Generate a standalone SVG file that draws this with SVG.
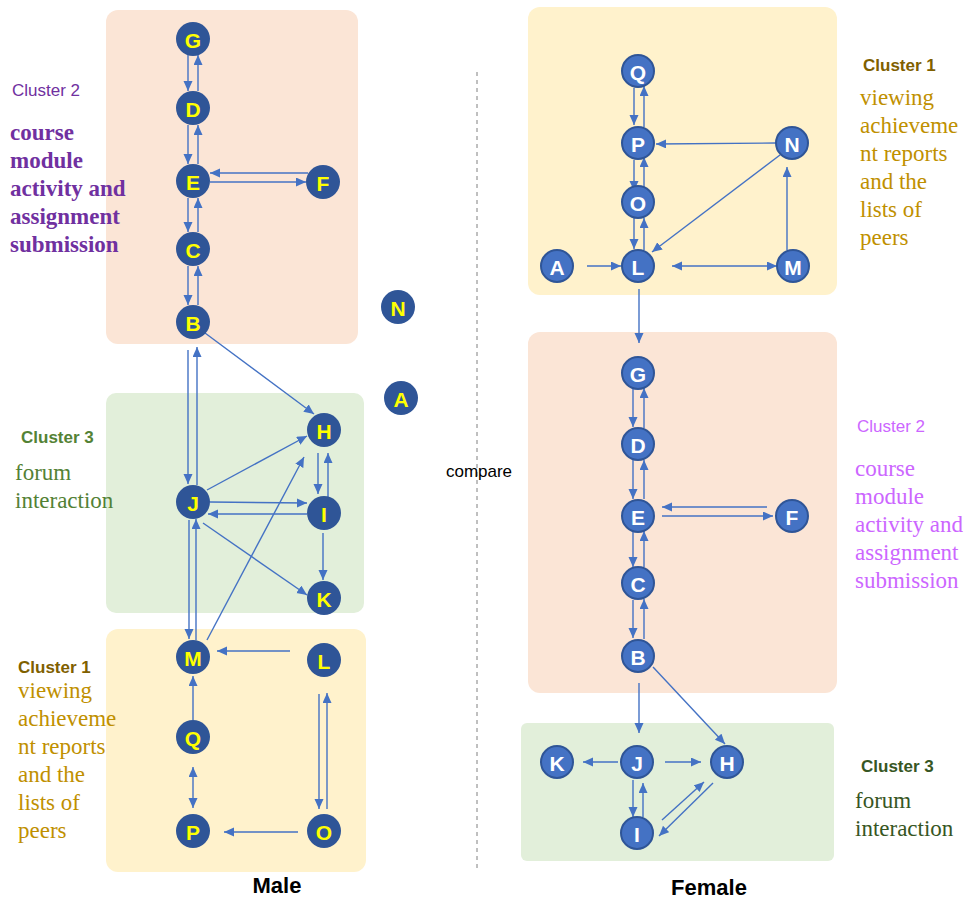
<svg xmlns="http://www.w3.org/2000/svg" width="967" height="900" viewBox="0 0 967 900">
  <style>
    .bg { fill: #ffffff; }
    .c1 { fill: #FFF2CC; }
    .c2 { fill: #FBE5D6; }
    .c3 { fill: #E2EFDA; }
    .nm circle { fill: #2F5597; }
    .nm text { fill: #FFFF00; }
    .nf circle { fill: #4472C4; stroke: #2F5597; stroke-width: 2; }
    .nf text { fill: #FFFFFF; }
    .node text { font-family: "Liberation Sans", Arial, sans-serif; font-weight: bold; font-size: 21px; text-anchor: middle; dominant-baseline: central; }
    .edges line { stroke: #4472C4; stroke-width: 1.4; fill: none; marker-end: url(#ah); }
    .edges line.both { marker-start: url(#ah); }
    .lbl { font-family: "Liberation Sans", Arial, sans-serif; font-size: 17px; }
    .desc { font-family: "Liberation Serif", "Times New Roman", serif; font-size: 23px; }
    .title { font-family: "Liberation Sans", Arial, sans-serif; font-size: 22px; font-weight: bold; fill: #000000; text-anchor: middle; }
  </style>
  <defs>
    <marker id="ah" markerUnits="userSpaceOnUse" markerWidth="11" markerHeight="10" refX="10" refY="4.5" orient="auto-start-reverse">
      <path d="M0,0 L10,4.5 L0,9 z" fill="#4472C4"/>
    </marker>
  </defs>

  <rect class="bg" x="0" y="0" width="967" height="900"/>

  <!-- cluster backgrounds -->
  <g id="clusters">
    <rect class="c2" x="106" y="10" width="252" height="334" rx="12"/>
    <rect class="c3" x="106" y="393" width="258" height="220" rx="10"/>
    <rect class="c1" x="106" y="629" width="260" height="243" rx="12"/>
    <rect class="c1" x="528" y="7" width="309" height="288" rx="12"/>
    <rect class="c2" x="528" y="332" width="309" height="361" rx="12"/>
    <rect class="c3" x="521" y="723" width="313" height="138" rx="6"/>
  </g>

  <!-- divider -->
  <line x1="477" y1="72" x2="477" y2="870" stroke="#808080" stroke-width="1" stroke-dasharray="4,4"/>
  <text x="479" y="477" class="lbl" font-size="18" text-anchor="middle" fill="#000000">compare</text>

  <!-- cluster labels -->
  <g id="labels">
    <text x="12" y="96" class="lbl" fill="#7030A0">Cluster 2</text>
    <text class="desc" fill="#7030A0" font-weight="bold">
      <tspan x="10" y="140">course</tspan>
      <tspan x="10" y="168">module</tspan>
      <tspan x="10" y="196">activity and</tspan>
      <tspan x="10" y="224">assignment</tspan>
      <tspan x="10" y="252">submission</tspan>
    </text>
    <text x="21" y="443" class="lbl" font-weight="bold" fill="#548235">Cluster 3</text>
    <text class="desc" fill="#538135">
      <tspan x="15" y="480">forum</tspan>
      <tspan x="15" y="508">interaction</tspan>
    </text>
    <text x="18" y="673" class="lbl" font-weight="bold" fill="#7F6000">Cluster 1</text>
    <text class="desc" fill="#BF9000">
      <tspan x="18" y="698">viewing</tspan>
      <tspan x="18" y="726">achieveme</tspan>
      <tspan x="18" y="754">nt reports</tspan>
      <tspan x="18" y="782">and the</tspan>
      <tspan x="18" y="810">lists of</tspan>
      <tspan x="18" y="838">peers</tspan>
    </text>

    <text x="863" y="71" class="lbl" font-weight="bold" fill="#7F6000">Cluster 1</text>
    <text class="desc" fill="#BF9000">
      <tspan x="860" y="105">viewing</tspan>
      <tspan x="860" y="133">achieveme</tspan>
      <tspan x="860" y="161">nt reports</tspan>
      <tspan x="860" y="189">and the</tspan>
      <tspan x="860" y="217">lists of</tspan>
      <tspan x="860" y="245">peers</tspan>
    </text>
    <text x="857" y="432" class="lbl" fill="#CC66FF">Cluster 2</text>
    <text class="desc" fill="#CC66FF">
      <tspan x="855" y="476">course</tspan>
      <tspan x="855" y="504">module</tspan>
      <tspan x="855" y="532">activity and</tspan>
      <tspan x="855" y="560">assignment</tspan>
      <tspan x="855" y="588">submission</tspan>
    </text>
    <text x="861" y="772" class="lbl" font-weight="bold" fill="#375623">Cluster 3</text>
    <text class="desc" fill="#375623">
      <tspan x="855" y="808">forum</tspan>
      <tspan x="855" y="836">interaction</tspan>
    </text>

    <text x="277" y="893" class="title">Male</text>
    <text x="709" y="895" class="title">Female</text>
  </g>

  <!-- connectors -->
  <g id="edges" class="edges">
    <!-- male: cluster 2 chain -->
    <line x1="188" y1="55" x2="188" y2="91"/>
    <line x1="198" y1="91" x2="198" y2="55"/>
    <line x1="188" y1="125" x2="188" y2="164"/>
    <line x1="198" y1="164" x2="198" y2="125"/>
    <line x1="188" y1="198" x2="188" y2="232"/>
    <line x1="198" y1="232" x2="198" y2="198"/>
    <line x1="188" y1="266" x2="188" y2="305"/>
    <line x1="198" y1="305" x2="198" y2="266"/>
    <line x1="308" y1="173" x2="210" y2="173"/>
    <line x1="210" y1="182" x2="306" y2="182"/>
    <!-- male: B to cluster 3 -->
    <line x1="188" y1="350" x2="188" y2="484"/>
    <line x1="197" y1="485" x2="197" y2="347"/>
    <line x1="205" y1="333" x2="314" y2="414"/>
    <!-- male: cluster 3 -->
    <line x1="207" y1="490" x2="307" y2="436"/>
    <line x1="318" y1="453" x2="318" y2="494"/>
    <line x1="328" y1="497" x2="328" y2="453"/>
    <line x1="210" y1="502" x2="307" y2="503"/>
    <line x1="307" y1="514" x2="208" y2="514"/>
    <line x1="323" y1="533" x2="323" y2="580"/>
    <line x1="203" y1="523" x2="307" y2="595"/>
    <!-- male: cluster 3 to cluster 1 -->
    <line x1="189" y1="520" x2="189" y2="639"/>
    <line x1="196" y1="640" x2="196" y2="519"/>
    <line x1="207" y1="640" x2="304" y2="457"/>
    <!-- male: cluster 1 -->
    <line x1="290" y1="651" x2="217" y2="651"/>
    <line x1="193" y1="720" x2="193" y2="676"/>
    <line class="both" x1="193" y1="767" x2="193" y2="808"/>
    <line x1="319" y1="694" x2="319" y2="809"/>
    <line x1="327" y1="809" x2="327" y2="693"/>
    <line x1="298" y1="832" x2="224" y2="832"/>

    <!-- female: cluster 1 -->
    <line x1="634" y1="88" x2="634" y2="125"/>
    <line x1="644" y1="127" x2="644" y2="86"/>
    <line x1="634" y1="160" x2="634" y2="191"/>
    <line x1="644" y1="187" x2="644" y2="157"/>
    <line x1="634" y1="218" x2="634" y2="249"/>
    <line x1="644" y1="250" x2="644" y2="218"/>
    <line x1="776" y1="143" x2="656" y2="144"/>
    <line x1="780" y1="155" x2="652" y2="252"/>
    <line x1="787" y1="250" x2="787" y2="167"/>
    <line class="both" x1="672" y1="266" x2="777" y2="266"/>
    <line x1="587" y1="266" x2="621" y2="266"/>
    <!-- female: cluster 1 to cluster 2 -->
    <line x1="639" y1="289" x2="639" y2="343"/>
    <!-- female: cluster 2 chain -->
    <line x1="633" y1="389" x2="633" y2="427"/>
    <line x1="644" y1="428" x2="644" y2="388"/>
    <line x1="633" y1="460" x2="633" y2="499"/>
    <line x1="644" y1="499" x2="644" y2="460"/>
    <line x1="633" y1="532" x2="633" y2="567"/>
    <line x1="644" y1="567" x2="644" y2="531"/>
    <line x1="633" y1="600" x2="633" y2="638"/>
    <line x1="644" y1="639" x2="644" y2="599"/>
    <line x1="767" y1="507" x2="662" y2="507"/>
    <line x1="662" y1="516" x2="773" y2="516"/>
    <!-- female: cluster 2 to cluster 3 -->
    <line x1="639" y1="683" x2="639" y2="733"/>
    <line x1="653" y1="667" x2="725" y2="744"/>
    <!-- female: cluster 3 -->
    <line x1="618" y1="762" x2="583" y2="762"/>
    <line x1="665" y1="762" x2="701" y2="762"/>
    <line x1="633" y1="780" x2="633" y2="817"/>
    <line x1="643" y1="817" x2="643" y2="783"/>
    <line x1="662" y1="820" x2="704" y2="782"/>
    <line x1="713" y1="783" x2="659" y2="836"/>
  </g>

  <!-- male nodes -->
  <g id="m-G" class="node nm"><circle cx="193" cy="39" r="17"/><text x="193" y="40">G</text></g>
  <g id="m-D" class="node nm"><circle cx="193" cy="108" r="17"/><text x="193" y="109">D</text></g>
  <g id="m-E" class="node nm"><circle cx="193" cy="181" r="17"/><text x="193" y="182">E</text></g>
  <g id="m-F" class="node nm"><circle cx="323" cy="182" r="17"/><text x="323" y="183">F</text></g>
  <g id="m-C" class="node nm"><circle cx="193" cy="249" r="17"/><text x="193" y="250">C</text></g>
  <g id="m-B" class="node nm"><circle cx="193" cy="322" r="17"/><text x="193" y="323">B</text></g>
  <g id="m-N" class="node nm"><circle cx="398" cy="307" r="17"/><text x="398" y="308">N</text></g>
  <g id="m-A" class="node nm"><circle cx="401" cy="398" r="17"/><text x="401" y="399">A</text></g>
  <g id="m-H" class="node nm"><circle cx="324" cy="430" r="17"/><text x="324" y="431">H</text></g>
  <g id="m-J" class="node nm"><circle cx="193" cy="502" r="17"/><text x="193" y="503">J</text></g>
  <g id="m-I" class="node nm"><circle cx="324" cy="513" r="17"/><text x="324" y="514">I</text></g>
  <g id="m-K" class="node nm"><circle cx="324" cy="598" r="17"/><text x="324" y="599">K</text></g>
  <g id="m-M" class="node nm"><circle cx="193" cy="657" r="17"/><text x="193" y="658">M</text></g>
  <g id="m-L" class="node nm"><circle cx="324" cy="660" r="17"/><text x="324" y="661">L</text></g>
  <g id="m-Q" class="node nm"><circle cx="193" cy="737" r="17"/><text x="193" y="738">Q</text></g>
  <g id="m-P" class="node nm"><circle cx="193" cy="831" r="17"/><text x="193" y="832">P</text></g>
  <g id="m-O" class="node nm"><circle cx="324" cy="831" r="17"/><text x="324" y="832">O</text></g>

  <!-- female nodes -->
  <g id="f-Q" class="node nf"><circle cx="638" cy="71" r="16"/><text x="638" y="72">Q</text></g>
  <g id="f-P" class="node nf"><circle cx="638" cy="143" r="16"/><text x="638" y="144">P</text></g>
  <g id="f-O" class="node nf"><circle cx="638" cy="202" r="16"/><text x="638" y="203">O</text></g>
  <g id="f-L" class="node nf"><circle cx="638" cy="266" r="16"/><text x="638" y="267">L</text></g>
  <g id="f-A" class="node nf"><circle cx="557" cy="266" r="16"/><text x="557" y="267">A</text></g>
  <g id="f-M" class="node nf"><circle cx="793" cy="266" r="16"/><text x="793" y="267">M</text></g>
  <g id="f-N" class="node nf"><circle cx="792" cy="143" r="16"/><text x="792" y="144">N</text></g>
  <g id="f-G" class="node nf"><circle cx="638" cy="373" r="16"/><text x="638" y="374">G</text></g>
  <g id="f-D" class="node nf"><circle cx="638" cy="444" r="16"/><text x="638" y="445">D</text></g>
  <g id="f-E" class="node nf"><circle cx="638" cy="516" r="16"/><text x="638" y="517">E</text></g>
  <g id="f-F" class="node nf"><circle cx="792" cy="516" r="16"/><text x="792" y="517">F</text></g>
  <g id="f-C" class="node nf"><circle cx="638" cy="583" r="16"/><text x="638" y="584">C</text></g>
  <g id="f-B" class="node nf"><circle cx="638" cy="656" r="16"/><text x="638" y="657">B</text></g>
  <g id="f-K" class="node nf"><circle cx="557" cy="762" r="16"/><text x="557" y="763">K</text></g>
  <g id="f-J" class="node nf"><circle cx="637" cy="762" r="16"/><text x="637" y="763">J</text></g>
  <g id="f-H" class="node nf"><circle cx="727" cy="762" r="16"/><text x="727" y="763">H</text></g>
  <g id="f-I" class="node nf"><circle cx="637" cy="833" r="16"/><text x="637" y="834">I</text></g>
</svg>
